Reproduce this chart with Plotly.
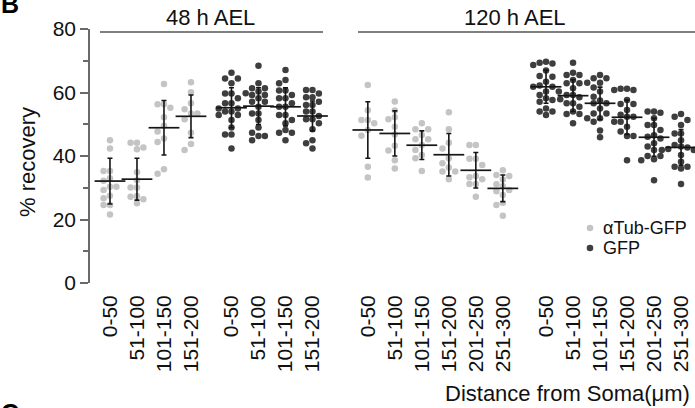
import plotly.graph_objects as go

# Distance bins (µm)
bins_48h = ["0-50", "51-100", "101-150", "151-200"]
bins_120h = ["0-50", "51-100", "101-150", "151-200", "201-250", "251-300"]

# % recovery, individual measurements per bin
tub_48h = [
    [45.0, 42.4, 35.3, 35.3, 33.0, 32.2, 30.3, 30.3, 29.3, 27.5, 26.7, 24.6, 24.6, 21.6],
    [44.2, 44.2, 42.7, 42.1, 34.9, 32.4, 30.1, 30.1, 27.4, 27.2, 26.4, 25.1],
    [62.7, 56.3, 56.3, 55.2, 52.2, 49.5, 47.7, 45.5, 44.4, 35.8, 34.4],
    [63.2, 60.1, 56.6, 54.7, 53.4, 53.4, 51.6, 47.3, 43.8, 41.9],
]
gfp_48h = [
    [66.2, 64.4, 64.4, 62.9, 59.7, 59.7, 58.2, 56.6, 56.6, 55.0, 55.0, 54.0, 54.0, 52.9, 52.9, 51.3, 49.0, 46.8, 46.8, 42.4],
    [68.4, 62.9, 61.3, 61.3, 60.3, 59.8, 59.2, 59.2, 58.2, 57.1, 57.1, 55.5, 53.4, 53.4, 51.3, 49.0, 47.3, 46.3, 46.3, 45.0],
    [67.1, 63.9, 62.9, 60.6, 60.6, 59.2, 58.2, 58.2, 56.6, 55.5, 55.5, 52.9, 52.9, 51.3, 50.3, 48.2, 47.3, 47.3, 45.0],
    [60.8, 60.8, 59.7, 58.5, 58.5, 57.1, 56.1, 56.1, 54.0, 54.0, 52.6, 51.6, 51.6, 50.3, 48.4, 45.0, 44.0, 42.4],
]
tub_120h = [
    [62.4, 54.4, 51.3, 51.3, 50.3, 48.2, 46.4, 36.6, 33.2],
    [57.2, 54.3, 52.2, 51.6, 49.2, 46.8, 43.2, 41.7, 38.7, 36.1],
    [50.3, 48.4, 48.4, 46.6, 45.3, 45.3, 43.5, 41.9, 40.3, 39.3, 35.3],
    [53.8, 48.4, 44.2, 42.4, 39.3, 37.7, 36.4, 35.1, 35.1, 32.7],
    [43.5, 43.5, 39.1, 39.1, 37.2, 33.7, 33.3, 32.7, 31.2, 31.2, 27.2],
    [35.5, 34.0, 33.7, 32.6, 31.1, 30.5, 29.3, 28.9, 27.7, 25.3, 24.6, 21.2],
]
gfp_120h = [
    [69.7, 69.4, 69.1, 68.7, 66.9, 65.2, 65.0, 63.4, 62.2, 61.8, 61.8, 60.3, 60.3, 59.2, 58.2, 57.6, 57.1, 55.0, 54.0, 54.0, 52.9],
    [69.4, 66.2, 65.5, 65.5, 63.9, 62.9, 62.9, 61.3, 59.2, 59.2, 58.5, 57.9, 56.6, 56.6, 55.5, 54.0, 53.2, 53.2, 50.3],
    [65.5, 64.5, 64.5, 63.1, 63.1, 61.6, 60.3, 58.7, 57.5, 56.6, 56.6, 55.0, 53.4, 53.4, 51.9, 51.9, 50.8, 48.0, 45.9],
    [61.2, 61.2, 60.8, 60.8, 57.6, 56.4, 56.4, 54.5, 53.0, 52.4, 52.4, 50.8, 50.8, 49.2, 47.7, 46.3, 46.3, 38.7],
    [54.0, 54.0, 53.6, 51.9, 49.8, 49.8, 48.2, 46.5, 46.1, 45.5, 44.0, 43.0, 41.9, 40.0, 40.0, 39.0, 38.7, 32.4],
    [53.2, 52.4, 51.3, 49.8, 47.1, 47.1, 45.0, 43.5, 43.0, 42.7, 42.2, 41.9, 41.9, 40.3, 38.2, 36.6, 36.6, 36.1, 31.2],
]

# Mean ± SD per bin
mean_tub_48h = [32.1, 32.7, 48.9, 52.5]
sd_tub_48h = [7.2, 6.6, 8.6, 6.7]
mean_gfp_48h = [55.2, 55.7, 55.5, 52.6]
sd_gfp_48h = [6.3, 5.8, 6.0, 4.7]
mean_tub_120h = [48.2, 47.1, 43.4, 40.4, 35.5, 29.8]
sd_tub_120h = [8.9, 7.1, 4.5, 6.7, 5.6, 4.2]
mean_gfp_120h = [61.8, 59.0, 56.6, 52.2, 45.9, 42.7]
sd_gfp_120h = [5.2, 5.0, 5.1, 5.4, 6.0, 5.6]

# ---- layout geometry (pixels) ----
W, H = 695, 408
ML, MR, MT, MB = 90, 0, 29, 125
PW, PH = W - ML - MR, H - MT - MB
UNIT_PX = 27.0                     # px per category slot
X0 = -0.74                         # x value at left edge of the plot area
X1 = X0 + PW / UNIT_PX
Y_PX = PH / 80.0                   # px per % unit

LIGHT = "#c4c4c4"
DARK = "#3e3e3e"
BAR = "#151515"
FONT = "Liberation Sans, Arial, sans-serif"


def px_x(px):
    return (px - ML) / PW


def px_y(py):
    return (H - MB - py) / PH


def swarm(values, center, dot=6.3, step=6.4):
    """Beeswarm offsets: each point goes to the nearest free column slot."""
    placed = []
    xs = [0.0] * len(values)
    order = sorted(range(len(values)), key=lambda i: -values[i])
    for i in order:
        yp = values[i] * Y_PX
        for k in [0, -1, 1, -2, 2, -3, 3]:
            xp = k * step
            if all((xp - a) ** 2 + (yp - b) ** 2 >= dot ** 2 for a, b in placed):
                break
        placed.append((xp, yp))
        xs[i] = center + xp / UNIT_PX
    return xs


groups = [
    (tub_48h, mean_tub_48h, sd_tub_48h, 0.0, LIGHT, "αTub-GFP"),
    (gfp_48h, mean_gfp_48h, sd_gfp_48h, 4.5, DARK, "GFP"),
    (tub_120h, mean_tub_120h, sd_tub_120h, 9.55, LIGHT, "αTub-GFP"),
    (gfp_120h, mean_gfp_120h, sd_gfp_120h, 16.15, DARK, "GFP"),
]

fig = go.Figure()
tickvals, ticktext = [], []
bar_x, bar_y, bar_sd = [], [], []

for data, means, sds, start, color, name in groups:
    labels = bins_48h if len(data) == 4 else bins_120h
    px, py = [], []
    for j, vals in enumerate(data):
        c = start + j
        px += swarm(vals, c)
        py += vals
        tickvals.append(c)
        ticktext.append(labels[j])
        bar_x.append(c)
        bar_y.append(means[j])
        bar_sd.append(sds[j])
    fig.add_trace(go.Scatter(
        x=px, y=py, mode="markers", name=name, showlegend=False,
        marker=dict(size=6.5, color=color, line=dict(width=0)),
        cliponaxis=False,
    ))

# mean line with SD whiskers
fig.add_trace(go.Scatter(
    x=bar_x, y=bar_y, mode="markers", showlegend=False,
    marker=dict(symbol="line-ew", size=22, line=dict(width=1.7, color=BAR)),
    error_y=dict(type="data", array=bar_sd, visible=True,
                 color=BAR, thickness=1.6, width=2.5),
    cliponaxis=False,
))

shapes = []
annotations = []

# group brackets
for x0px, x1px, cpx, text in [(100, 323, 210, "48 h AEL"), (358, 695, 515, "120 h AEL")]:
    shapes.append(dict(type="line", xref="paper", yref="paper",
                       x0=px_x(x0px), x1=px_x(x1px), y0=px_y(32), y1=px_y(32),
                       line=dict(color="#555555", width=1.5)))
    annotations.append(dict(text=text, xref="paper", yref="paper",
                            x=px_x(cpx), y=px_y(17), xanchor="center", yanchor="middle",
                            showarrow=False, font=dict(size=22, color="#111111", family=FONT)))

# legend
for ypx, color, text in [(228, LIGHT, "αTub-GFP"), (248, DARK, "GFP")]:
    shapes.append(dict(type="circle", xref="paper", yref="paper",
                       xsizemode="pixel", ysizemode="pixel",
                       xanchor=px_x(590), yanchor=px_y(ypx),
                       x0=-3.3, x1=3.3, y0=-3.3, y1=3.3,
                       fillcolor=color, line=dict(width=0)))
    annotations.append(dict(text=text, xref="paper", yref="paper",
                            x=px_x(601), y=px_y(ypx), xanchor="left", yanchor="middle",
                            showarrow=False, font=dict(size=18, color="#111111", family=FONT)))

# axis titles and panel letters
annotations += [
    dict(text="% recovery", xref="paper", yref="paper", x=px_x(27), y=px_y(162),
         textangle=-90, xanchor="center", yanchor="middle", showarrow=False,
         font=dict(size=22, color="#111111", family=FONT)),
    dict(text="Distance from Soma(μm)", xref="paper", yref="paper", x=px_x(692), y=px_y(393),
         xanchor="right", yanchor="middle", showarrow=False,
         font=dict(size=22, color="#111111", family=FONT)),
    dict(text="<b>B</b>", xref="paper", yref="paper", x=px_x(-1), y=px_y(4),
         xanchor="left", yanchor="middle", showarrow=False,
         font=dict(size=25, color="#000000", family=FONT)),
    dict(text="<b>C</b>", xref="paper", yref="paper", x=px_x(-1), y=px_y(413),
         xanchor="left", yanchor="middle", showarrow=False,
         font=dict(size=25, color="#000000", family=FONT)),
]

fig.update_layout(
    width=W, height=H,
    margin=dict(l=ML, r=MR, t=MT, b=MB, pad=0),
    paper_bgcolor="white", plot_bgcolor="white",
    font=dict(family=FONT, color="#111111"),
    shapes=shapes, annotations=annotations,
    showlegend=False,
)
fig.update_xaxes(
    range=[X0, X1], showgrid=False, zeroline=False, showline=False,
    tickmode="array", tickvals=tickvals, ticktext=ticktext,
    tickangle=-90, ticks="", ticklabelstandoff=7,
    tickfont=dict(size=21, color="#111111", family=FONT),
)
fig.update_yaxes(
    range=[0, 80], showgrid=False, zeroline=False,
    showline=True, linecolor="#6a6a6a", linewidth=1.5,
    tickmode="linear", tick0=0, dtick=20,
    ticks="outside", ticklen=8, tickwidth=1.5, tickcolor="#6a6a6a",
    minor=dict(dtick=10, ticks="outside", ticklen=5, tickwidth=1.5, tickcolor="#6a6a6a"),
    tickfont=dict(size=21, color="#111111", family=FONT),
)

fig.write_html("out.html")
